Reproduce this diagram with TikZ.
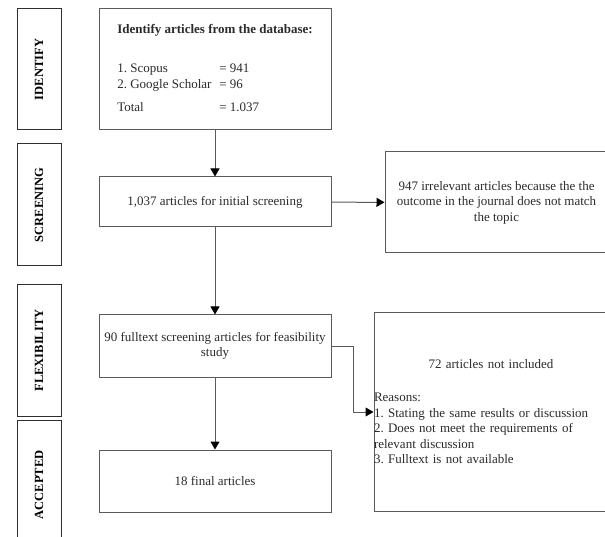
\documentclass[tikz,border=0pt]{standalone}
\usepackage{fontspec}
\setmainfont{Liberation Serif}
\usepackage{xcolor}
\usepackage{tikz}
\usetikzlibrary{arrows.meta}
\definecolor{PRLine}{HTML}{5A5A5A}
\definecolor{PRText}{HTML}{2B2B2B}
\definecolor{PRStage}{HTML}{2E2E2E}
\tikzset{
  stagebox/.style={draw=PRStage,line width=1pt,minimum height=44pt,inner sep=0pt,
    rotate=90,font=\fontsize{12.5}{14}\selectfont\bfseries,text=black},
  flowbox/.style={draw=PRLine,line width=1pt,inner sep=0pt,align=center,
    font=\fontsize{13}{15.5}\selectfont\frenchspacing,text=PRText},
  flowarrow/.style={draw=PRLine,line width=1pt,-{Triangle[length=8pt,width=9pt,color=black]}}
}
\begin{document}
\begin{tikzpicture}[x=1pt,y=-1pt]
\path[use as bounding box] (0,0) rectangle (605,537);
\fill[white] (0,0) rectangle (605,537);
\node[stagebox,minimum width=121pt] (identlbl) at (39,69.5) {IDENTIFY};
\node[stagebox,minimum width=122pt] (screenlbl) at (39,205) {SCREENING};
\node[stagebox,minimum width=131pt] (flexlbl) at (39,350.5) {FLEXIBILITY};
\node[stagebox,minimum width=130pt] (acclbl) at (39,485) {ACCEPTED};
\node[flowbox,minimum width=232pt,minimum height=121pt] (identbox) at (215,69.5) {%
  \begin{tabular}{@{}p{102pt}@{}l@{}}
  \multicolumn{2}{@{}l@{}}{\bfseries Identify articles from the database:}\\[24pt]
  1. Scopus & = 941\\
  2. Google Scholar & = 96\\[8pt]
  Total & = 1.037
  \end{tabular}};
\node[flowbox,minimum width=232pt,minimum height=50pt] (screenbox) at (215,202) {1,037 articles for initial screening};
\node[flowbox,minimum width=232pt,minimum height=62pt] (flexbox) at (215,346) {90 fulltext screening articles for feasibility\\study};
\node[flowbox,minimum width=232pt,minimum height=62pt] (finalbox) at (215,481) {18 final articles};
\node[flowbox,minimum width=223pt,minimum height=101pt] (irrbox) at (496.5,202.5) {947 irrelevant articles because the the\\outcome in the journal does not match\\the topic};
\node[flowbox,align=left,text width=234pt,minimum height=198pt] (exclbox) at (491,412) {%
  {\centering 72 articles not included\par}\vspace{17.5pt}\noindent\raggedright Reasons:\\
  1. Stating the same results or discussion\\
  2. Does not meet the requirements of\\
  relevant discussion\\
  3. Fulltext is not available};
\draw[flowarrow] (identbox) -- (screenbox);
\draw[flowarrow] (screenbox) -- (irrbox);
\draw[flowarrow] (screenbox) -- (flexbox);
\draw[flowarrow] (flexbox.east) -- ++(22,0) |- (exclbox.west);
\draw[flowarrow] (flexbox) -- (finalbox);
\end{tikzpicture}
\end{document}
